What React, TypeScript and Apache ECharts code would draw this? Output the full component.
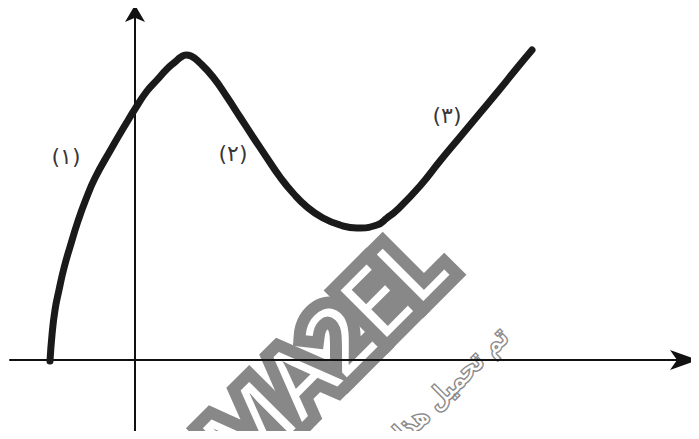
import React, { useEffect, useRef } from "react";
import * as echarts from "echarts";

// Curve samples (x, y) in axis units (origin at the axes' intersection)
const curveX = [-8.5, -8.3, -8.0, -7.6, -7.1, -6.5, -5.7, -4.9, -4.0, -2.5, -0.8, 0, 1.2, 2.2, 3.2, 4.0, 4.6, 5.1, 5.6, 6.5, 7.8, 9.2, 10.5, 11.8, 13.2, 14.5, 15.8, 17.2, 18.8, 20.5, 22.2, 24.2, 25.2, 26.2, 28.5, 30.5, 32.5, 34.5, 36.5, 38.2, 39.7];
const curveY = [-0.1, 2.5, 5.0, 7.0, 9.2, 11.3, 13.9, 16.1, 18.2, 20.9, 23.8, 25.1, 26.9, 28.0, 29.1, 29.8, 30.3, 30.5, 30.4, 29.7, 28.3, 26.3, 24.3, 22.3, 20.2, 18.3, 16.7, 15.3, 14.2, 13.5, 13.2, 13.5, 14.2, 15.0, 17.4, 19.9, 22.3, 24.7, 27.1, 29.2, 31.0];

// Segment labels and where they sit (axis units)
const segmentLabels = ["(١)", "(٢)", "(٣)"];
const labelX = [-6.9, 9.8, 31.2];
const labelY = [20.4, 20.7, 24.5];

const xRange = [-12.5, 56.3];
const yRange = [-7.3, 35.5];

const watermarkText = "MA2EL";
const watermarkSub = "تم تحميل هذا";

export default function App() {
  const ref = useRef<HTMLDivElement>(null);
  useEffect(() => {
    if (!ref.current) return;
    const chart = echarts.init(ref.current, null, { renderer: "svg" });
    const curve = curveX.map((x, i) => [x, curveY[i]]);
    const labels = labelX.map((x, i) => ({ value: [x, labelY[i]], name: segmentLabels[i] }));
    chart.setOption({
      animation: false,
      backgroundColor: "#ffffff",
      grid: { left: 10, right: 1, top: 5, bottom: 6 },
      xAxis: {
        type: "value",
        min: xRange[0],
        max: xRange[1],
        axisLine: {
          show: true,
          onZero: true,
          symbol: ["none", "arrow"],
          symbolSize: [15, 28],
          lineStyle: { color: "#111", width: 2 },
        },
        axisTick: { show: false },
        axisLabel: { show: false },
        splitLine: { show: false },
      },
      yAxis: {
        type: "value",
        min: yRange[0],
        max: yRange[1],
        axisLine: {
          show: true,
          onZero: true,
          symbol: ["none", "arrow"],
          symbolSize: [15, 17],
          lineStyle: { color: "#111", width: 2 },
        },
        axisTick: { show: false },
        axisLabel: { show: false },
        splitLine: { show: false },
      },
      graphic: [
        {
          type: "text",
          x: 322,
          y: 352,
          rotation: Math.PI / 4,
          z: -10,
          silent: true,
          style: {
            text: watermarkText,
            align: "center",
            verticalAlign: "middle",
            fontSize: 92,
            fontFamily: "Noto Sans",
            fontWeight: "normal",
            fill: "#ffffff",
            stroke: "#888888",
            lineWidth: 24,
          },
        },
        {
          type: "text",
          x: 503,
          y: 332,
          rotation: Math.PI / 4,
          z: -10,
          silent: true,
          style: {
            text: watermarkSub,
            align: "right",
            verticalAlign: "middle",
            fontSize: 27,
            fontFamily: "DejaVu Sans",
            fill: "#ffffff",
            stroke: "#8a8a8a",
            lineWidth: 3,
          },
        },
      ],
      series: [
        {
          type: "line",
          data: curve,
          smooth: 0.5,
          showSymbol: false,
          lineStyle: { color: "#1a1a1a", width: 7, cap: "round", join: "round" },
          z: 5,
        },
        {
          type: "scatter",
          data: labels,
          symbolSize: 0,
          label: {
            show: true,
            position: "inside",
            formatter: (p: any) => p.name,
            fontSize: 22,
            fontFamily: "DejaVu Sans",
            color: "#000",
          },
          z: 6,
        },
      ],
    });
    return () => chart.dispose();
  }, []);
  return <div ref={ref} style={{ width: 699, height: 439, margin: -8 }} />;
}
